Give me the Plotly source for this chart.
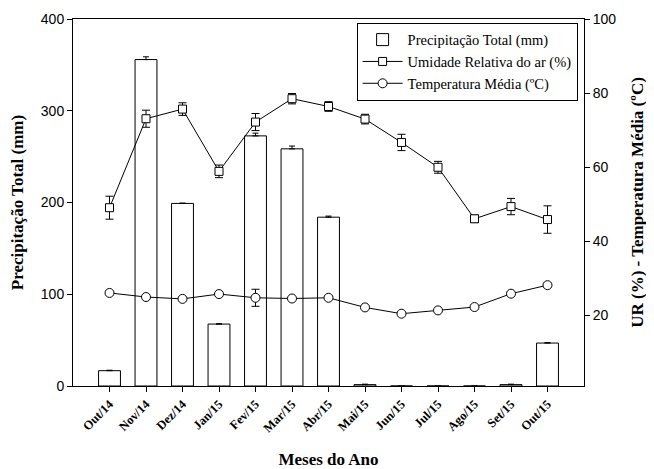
import plotly.graph_objects as go

meses = ["Out/14", "Nov/14", "Dez/14", "Jan/15", "Fev/15", "Mar/15", "Abr/15",
         "Mai/15", "Jun/15", "Jul/15", "Ago/15", "Set/15", "Out/15"]
precip = [16.7, 355.8, 199.0, 67.5, 272.6, 258.5, 184.0, 1.5, 0, 0, 0, 1.5, 46.8]
precip_err = [0.5, 3.0, 0.3, 0.3, 3.0, 3.0, 1.2, 0.5, 0, 0, 0, 0.5, 0.5]
ur = [49.1, 73.1, 75.7, 58.9, 72.2, 78.5, 76.4, 73.0, 66.7, 60.0, 46.1, 49.4, 45.9]
ur_err = [3.1, 2.3, 1.7, 1.7, 2.3, 1.4, 1.3, 1.3, 2.2, 1.6, 1.0, 2.2, 3.7]
temp = [26.1, 25.0, 24.5, 25.8, 24.8, 24.6, 24.8, 22.2, 20.5, 21.4, 22.3, 25.9, 28.2]
temp_err = [0.4, 0.4, 0.4, 0.4, 2.3, 0.4, 0.4, 0.4, 0.4, 0.4, 0.4, 0.4, 0.4]

serif = "Liberation Serif, Times New Roman, serif"
sans = "Liberation Sans, Arial, sans-serif"

fig = go.Figure()
fig.add_trace(go.Bar(
    x=meses, y=precip, name="Precipitação Total (mm)", width=0.6,
    marker=dict(color="white", line=dict(color="black", width=1)),
    error_y=dict(type="data", array=precip_err, arrayminus=[0] * len(precip_err),
                 color="black", thickness=1, width=3),
))
fig.add_trace(go.Scatter(
    x=meses, y=ur, yaxis="y2", name="Umidade Relativa do ar (%)", mode="lines+markers",
    line=dict(color="black", width=1),
    marker=dict(symbol="square", size=8, color="white", line=dict(color="black", width=1)),
    error_y=dict(type="data", array=ur_err, color="black", thickness=1, width=4),
))
fig.add_trace(go.Scatter(
    x=meses, y=temp, yaxis="y2", name="Temperatura Média (ºC)", mode="lines+markers",
    line=dict(color="black", width=1),
    marker=dict(symbol="circle", size=9, color="white", line=dict(color="black", width=1)),
    error_y=dict(type="data", array=temp_err, color="black", thickness=1, width=4),
))

# page body has an 8px default margin: figure is sized/margined to compensate
fig.update_layout(
    width=646, height=461,
    margin=dict(l=65, r=70, t=11, b=83, autoexpand=False),
    plot_bgcolor="white", paper_bgcolor="white",
    showlegend=True,
    legend=dict(x=0.555, y=0.99, xanchor="left", yanchor="top",
                bordercolor="black", borderwidth=1, bgcolor="white",
                font=dict(family=serif, size=14.5, color="black"),
                tracegroupgap=0, itemwidth=40),
    xaxis=dict(range=[-1, 13], showline=True, linecolor="black", linewidth=1, mirror=True,
               ticks="outside", ticklen=5, tickcolor="black", tickangle=-45,
               automargin=False,
               tickfont=dict(family=serif, size=12.5, color="black", weight="bold"),
               title=dict(text="<b>Meses do Ano</b>", font=dict(family=serif, size=17, color="black"),
                          standoff=26),
               showgrid=False),
    yaxis=dict(range=[0, 400], dtick=100, showline=True, linecolor="black", linewidth=1,
               ticks="outside", ticklen=5, tickcolor="black", showgrid=False, zeroline=False,
               automargin=False,
               tickfont=dict(family=sans, size=14, color="black"),
               title=dict(text="<b>Precipitação Total (mm)</b>",
                          font=dict(family=serif, size=17, color="black"), standoff=15)),
    yaxis2=dict(range=[1, 100], tickvals=[20, 40, 60, 80, 100], overlaying="y", side="right",
                showline=True, linecolor="black", linewidth=1,
                ticks="outside", ticklen=5, tickcolor="black", showgrid=False, zeroline=False,
                automargin=False,
                tickfont=dict(family=sans, size=14, color="black"),
                title=dict(text="<b>UR (%) - Temperatura Média (ºC)</b>",
                           font=dict(family=serif, size=17, color="black"), standoff=15)),
)

fig.write_html("out.html")
